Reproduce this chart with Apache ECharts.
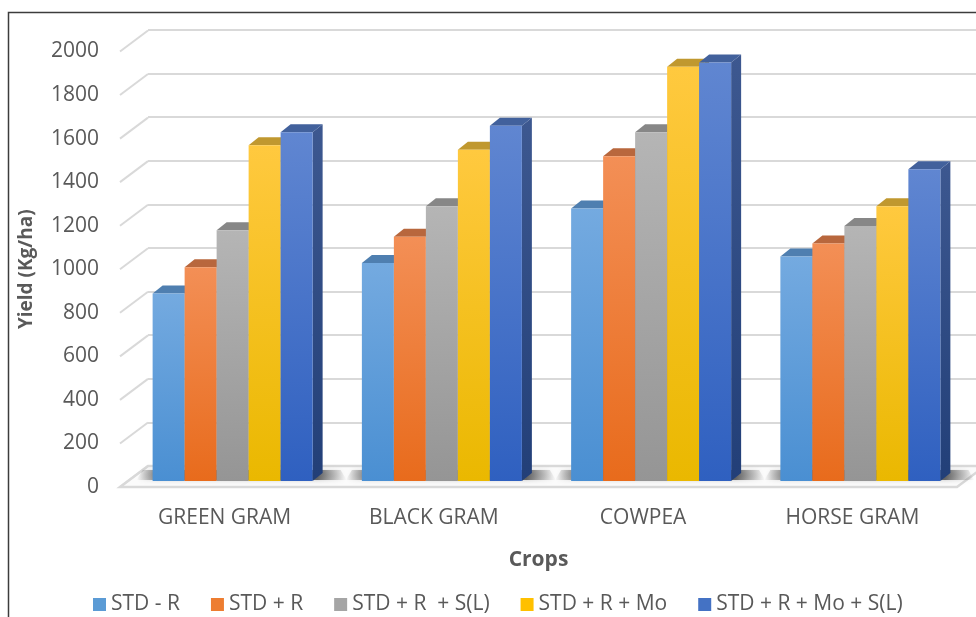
<!DOCTYPE html>
<html>
<head>
<meta charset="utf-8">
<script src="https://cdn.jsdelivr.net/npm/echarts@6/dist/echarts.min.js"></script>
<style>
  html, body { margin: 0; padding: 0; background: #ffffff; }
  #chart { width: 976px; height: 617px; }
</style>
</head>
<body>
<div id="chart"></div>
<script>
// Crop yields (Kg/ha) under five treatments
const crops = ['GREEN GRAM', 'BLACK GRAM', 'COWPEA', 'HORSE GRAM'];
const treatments = ['STD - R', 'STD + R', 'STD + R  + S(L)', 'STD + R + Mo', 'STD + R + Mo + S(L)'];
const stdR      = [860, 1000, 1250, 1030];
const stdPlusR  = [980, 1120, 1490, 1090];
const stdRSL    = [1150, 1260, 1600, 1170];
const stdRMo    = [1540, 1520, 1900, 1260];
const stdRMoSL  = [1600, 1630, 1920, 1430];
const yTicks    = [0, 200, 400, 600, 800, 1000, 1200, 1400, 1600, 1800, 2000];

const seriesValues = [stdR, stdPlusR, stdRSL, stdRMo, stdRMoSL];

// Shading for each bar: front gradient (top, bottom), top face, side face
const faces = [
  { key: '#5b9bd5', front: ['#74aae0', '#4a8fd2'], top: '#4f7fb0', side: ['#41699a', '#2f5a8a'] },
  { key: '#ed7d31', front: ['#f38f56', '#e86b1c'], top: '#b8673d', side: ['#a8542a', '#8f4418'] },
  { key: '#a5a5a5', front: ['#b5b5b5', '#959595'], top: '#878787', side: ['#7a7a7a', '#666666'] },
  { key: '#ffc000', front: ['#ffc93f', '#eab800'], top: '#c0982f', side: ['#a88319', '#8f6e08'] },
  { key: '#4472c4', front: ['#6086d1', '#2f60c0'], top: '#42619c', side: ['#3d5890', '#223f78'] }
];

const TEXT = '#595959';
const FONT = 'Open Sans';
const GRIDLINE = '#d9d9d9';
const WALL_DX = 28, WALL_DY = -21;   // front plane -> back wall
const BAR_DX = 10, BAR_DY = -8;      // bar depth
const BAR_W = 32;                    // front face width of one bar

function barSeries(idx) {
  const f = faces[idx];
  return {
    type: 'custom',
    name: treatments[idx],
    xAxisIndex: 0, yAxisIndex: 0,
    z: 3,
    silent: true,
    itemStyle: { color: f.key },
    data: crops.map((c, j) => [j, seriesValues[idx][j]]),
    renderItem(params, api) {
      const j = api.value(0), v = api.value(1);
      const base = api.coord([j, 0]);
      const top = api.coord([j, v]);
      const n = treatments.length;
      const x0 = base[0] - (n * BAR_W) / 2 + idx * BAR_W;
      const x1 = x0 + BAR_W;
      const yb = base[1], yt = top[1];
      const z2 = idx * 3;
      return {
        type: 'group',
        children: [
          {
            type: 'polygon', z2: z2,
            shape: { points: [[x1, yt], [x1 + BAR_DX, yt + BAR_DY], [x1 + BAR_DX, yb + BAR_DY], [x1, yb]] },
            style: { fill: new echarts.graphic.LinearGradient(0, 0, 0, 1, [
              { offset: 0, color: f.side[0] }, { offset: 1, color: f.side[1] }]) }
          },
          {
            type: 'polygon', z2: z2 + 1,
            shape: { points: [[x0, yt], [x0 + BAR_DX, yt + BAR_DY], [x1 + BAR_DX, yt + BAR_DY], [x1, yt]] },
            style: { fill: f.top }
          },
          {
            type: 'rect', z2: z2 + 2,
            shape: { x: x0, y: yt, width: BAR_W, height: yb - yt },
            style: { fill: new echarts.graphic.LinearGradient(0, 0, 0, 1, [
              { offset: 0, color: f.front[0] }, { offset: 1, color: f.front[1] }]) }
          }
        ]
      };
    }
  };
}

const valueAxis = (gi, extra) => Object.assign({
  type: 'value', gridIndex: gi, min: 0, max: 2000, interval: 200,
  axisLine: { show: false }, axisTick: { show: false },
  axisLabel: { show: false }, splitLine: { show: false }
}, extra || {});

const option = {
  animation: false,
  backgroundColor: '#ffffff',
  textStyle: { fontFamily: FONT },
  grid: [
    { left: 128, right: 11, top: 45, bottom: 136 },     // bars
    { left: 120, right: 19, top: 51.5, bottom: 130 },   // front plane
    { left: 148, right: -9, top: 30, bottom: 151 }      // back wall
  ],
  xAxis: [
    { type: 'category', gridIndex: 0, data: crops, show: false },
    {
      type: 'category', gridIndex: 1, data: crops,
      axisLine: { show: false }, axisTick: { show: false },
      axisLabel: { color: TEXT, fontSize: 21, fontFamily: FONT, margin: 21 },
      name: 'Crops', nameLocation: 'middle', nameGap: 63,
      nameTextStyle: { color: TEXT, fontSize: 21, fontWeight: 'bold', fontFamily: FONT }
    },
    { type: 'category', gridIndex: 2, data: crops, show: false }
  ],
  yAxis: [
    valueAxis(0),
    valueAxis(1, {
      axisLabel: { show: true, color: TEXT, fontSize: 21, fontFamily: FONT, margin: 21,
                   formatter: v => String(v) },
      name: 'Yield (Kg/ha)', nameLocation: 'middle', nameRotate: 90, nameGap: 84,
      nameTextStyle: { color: TEXT, fontSize: 19, fontWeight: 'bold', fontFamily: FONT }
    }),
    valueAxis(2, { splitLine: { show: true, lineStyle: { color: GRIDLINE, width: 2 } } })
  ],
  legend: {
    data: treatments,
    left: 88, top: 589,
    icon: 'rect', itemWidth: 13, itemHeight: 13, itemGap: 31,
    textStyle: { color: TEXT, fontSize: 21, fontFamily: FONT }
  },
  graphic: [
    {
      type: 'polyline', silent: true,
      shape: { points: [[8.5, 617], [8.5, 12.5], [976, 12.5]] },
      style: { stroke: '#3c3c3c', lineWidth: 1.5, fill: null }
    }
  ],
  series: [
    // floor slab
    {
      type: 'custom', xAxisIndex: 1, yAxisIndex: 1, z: 1, silent: true,
      data: [[0, 0]],
      renderItem(params, api) {
        const cs = params.coordSys;
        const y = api.coord([0, 0])[1];
        const xl = cs.x, xr = cs.x + cs.width;
        return {
          type: 'polygon',
          shape: { points: [[xl, y], [xr, y], [xr + WALL_DX, y + WALL_DY], [xl + WALL_DX, y + WALL_DY]] },
          style: { fill: '#fbfbfb', stroke: GRIDLINE, lineWidth: 2.5 }
        };
      }
    },
    // side-wall gridlines joining the front plane to the back wall
    {
      type: 'custom', xAxisIndex: 1, yAxisIndex: 1, z: 1, silent: true,
      data: yTicks.map(v => [0, v]),
      renderItem(params, api) {
        const cs = params.coordSys;
        const y = api.coord([0, api.value(1)])[1];
        return {
          type: 'line',
          shape: { x1: cs.x, y1: y, x2: cs.x + WALL_DX, y2: y + WALL_DY },
          style: { stroke: GRIDLINE, lineWidth: 2 }
        };
      }
    },
    // soft shadows cast on the floor by each group of bars
    {
      type: 'custom', xAxisIndex: 0, yAxisIndex: 0, z: 2, silent: true,
      data: crops.map((c, j) => [j, 0]),
      renderItem(params, api) {
        const base = api.coord([api.value(0), 0]);
        const half = (treatments.length * BAR_W) / 2;
        const xl = base[0] - half - 16, xr = base[0] + half + BAR_DX + 24;
        const yb = base[1] - 1, yt = base[1] + BAR_DY - 3;
        return {
          type: 'polygon',
          shape: { points: [[xl + 6, yt], [xr - 6, yt], [xr, yb], [xl, yb]] },
          style: {
            fill: new echarts.graphic.LinearGradient(0, 0, 1, 0, [
              { offset: 0, color: 'rgba(80,80,80,0)' },
              { offset: 0.1, color: 'rgba(60,60,60,0.6)' },
              { offset: 0.86, color: 'rgba(50,50,50,0.7)' },
              { offset: 1, color: 'rgba(80,80,80,0)' }
            ]),
            shadowBlur: 5, shadowColor: 'rgba(0,0,0,0.3)'
          }
        };
      }
    }
  ].concat(treatments.map((t, i) => barSeries(i)))
};

const chart = echarts.init(document.getElementById('chart'), null, { renderer: 'canvas' });
chart.setOption(option);
</script>
</body>
</html>
